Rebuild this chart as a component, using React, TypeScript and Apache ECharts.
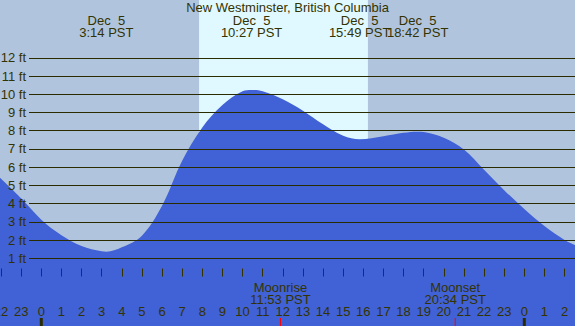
import React, { useEffect, useRef } from "react";
import * as echarts from "echarts";

// Tide curve: hours after midnight Dec 5, height in ft
const tideHours = [-2.052, -1, 0, 1, 2, 3, 3.233, 4, 5, 6, 7, 8, 9, 10, 10.45, 11, 12, 13, 14, 15, 15.817, 17, 18, 18.7, 19, 20, 21, 22, 23, 24, 25, 26, 26.519];
const tideFeet = [5.42, 4.29, 3.12, 2.27, 1.68, 1.38, 1.36, 1.6, 2.24, 3.88, 6.35, 8.18, 9.41, 10.17, 10.24, 10.17, 9.73, 9.1, 8.35, 7.72, 7.53, 7.7, 7.89, 7.95, 7.93, 7.62, 6.97, 5.86, 4.74, 3.7, 2.77, 2.01, 1.73];

// Tide extremes (labels at top)
const eventHours = [3.233, 10.45, 15.817, 18.7];
const eventDates = ["Dec  5", "Dec  5", "Dec  5", "Dec  5"];
const eventTimes = ["3:14 PST", "10:27 PST", "15:49 PST", "18:42 PST"];

// Moon events (labels at bottom)
const moonHours = [11.883, 20.567];
const moonNames = ["Moonrise", "Moonset"];
const moonTimes = ["11:53 PST", "20:34 PST"];

// Daylight
const sunrise = 7.84;
const sunset = 16.23;

const midnightHours = [0, 24];
const footTicks = [1, 12];

const TEXT = "#333300";
const FONT = "Liberation Sans, Arial, sans-serif";

export default function App() {
  const ref = useRef<HTMLDivElement>(null);
  useEffect(() => {
    if (!ref.current) return;
    const chart = echarts.init(ref.current, null, { renderer: "svg" });
    const tideData = tideHours.map((h, i) => [h, tideFeet[i]]);
    const option: any = {
      animation: false,
      backgroundColor: "#b0c4de",
      title: {
        text: "New Westminster, British Columbia",
        left: "center",
        top: 1,
        padding: 0,
        textStyle: { color: TEXT, fontSize: 13, fontWeight: "normal", fontFamily: FONT },
      },
      grid: [
        { left: -19.075, width: 603.75, top: 0, bottom: 0, containLabel: false, outerBoundsMode: "none" },
        { left: 29, right: 0, top: 57.86, bottom: 67.72, containLabel: false, outerBoundsMode: "none" },
      ],
      xAxis: [
        {
          type: "value",
          gridIndex: 0,
          min: -3,
          max: 27,
          interval: 1,
          axisLine: { show: false },
          splitLine: { show: false },
          axisTick: { show: true, inside: true, length: 8, lineStyle: { color: TEXT, width: 1 } },
          axisLabel: {
            inside: true,
            margin: 8,
            interval: 0,
            hideOverlap: false,
            color: TEXT,
            fontSize: 13,
            fontFamily: FONT,
            formatter: (v: number) => String(((v % 24) + 24) % 24),
          },
          z: 6,
        },
        { type: "value", gridIndex: 1, min: 0, max: 1, show: false },
      ],
      yAxis: [
        { type: "value", gridIndex: 0, min: -2.717, max: 15.176, show: false },
        {
          type: "value",
          gridIndex: 1,
          min: footTicks[0],
          max: footTicks[1],
          interval: 1,
          axisLine: { show: false },
          axisTick: { show: false },
          splitLine: { show: true, lineStyle: { color: "#2b2b00", width: 1 } },
          axisLabel: {
            margin: 3,
            color: TEXT,
            fontSize: 13,
            fontFamily: FONT,
            formatter: "{value} ft",
          },
          z: 5,
        },
      ],
      series: [
        {
          type: "custom",
          xAxisIndex: 0,
          yAxisIndex: 0,
          z: 0,
          silent: true,
          data: [[sunrise, sunset]],
          renderItem: (params: any, api: any) => {
            const cs = params.coordSys;
            const x0 = api.coord([api.value(0), 0])[0];
            const x1 = api.coord([api.value(1), 0])[0];
            return {
              type: "rect",
              shape: { x: x0, y: cs.y, width: x1 - x0, height: cs.height },
              style: { fill: "#e0f8ff" },
            };
          },
        },
        {
          type: "line",
          xAxisIndex: 0,
          yAxisIndex: 0,
          z: 2,
          data: tideData,
          smooth: 0.35,
          symbol: "none",
          lineStyle: { width: 0 },
          areaStyle: { color: "#4161d6", opacity: 1, origin: "start" },
        },
        {
          type: "custom",
          xAxisIndex: 0,
          yAxisIndex: 0,
          z: 7,
          silent: true,
          data: eventHours.map((h, i) => [h, i]),
          renderItem: (params: any, api: any) => {
            const i = api.value(1);
            const x = api.coord([api.value(0), 0])[0];
            return {
              type: "group",
              children: [
                {
                  type: "text",
                  style: { text: eventDates[i], x, y: 20, align: "center", verticalAlign: "middle", fill: TEXT, font: `13px ${FONT}` },
                },
                {
                  type: "text",
                  style: { text: eventTimes[i], x, y: 32, align: "center", verticalAlign: "middle", fill: TEXT, font: `13px ${FONT}` },
                },
              ],
            };
          },
        },
        {
          type: "custom",
          xAxisIndex: 0,
          yAxisIndex: 0,
          z: 7,
          silent: true,
          data: moonHours.map((h, i) => [h, i]),
          renderItem: (params: any, api: any) => {
            const i = api.value(1);
            const cs = params.coordSys;
            const x = api.coord([api.value(0), 0])[0];
            const yb = cs.y + cs.height;
            return {
              type: "group",
              children: [
                {
                  type: "text",
                  style: { text: moonNames[i], x, y: 287.5, align: "center", verticalAlign: "middle", fill: TEXT, font: `13px ${FONT}` },
                },
                {
                  type: "text",
                  style: { text: moonTimes[i], x, y: 299.5, align: "center", verticalAlign: "middle", fill: TEXT, font: `13px ${FONT}` },
                },
                {
                  type: "rect",
                  shape: { x: x - 0.5, y: yb - 8, width: 1, height: 8 },
                  style: { fill: "#ff0000" },
                },
              ],
            };
          },
        },
        {
          type: "custom",
          xAxisIndex: 0,
          yAxisIndex: 0,
          z: 7,
          silent: true,
          data: midnightHours.map((h) => [h]),
          renderItem: (params: any, api: any) => {
            const cs = params.coordSys;
            const x = api.coord([api.value(0), 0])[0];
            const yb = cs.y + cs.height;
            return {
              type: "rect",
              shape: { x: x - 1.5, y: yb - 8, width: 3, height: 8 },
              style: { fill: "#2b2b00" },
            };
          },
        },
      ],
    };
    chart.setOption(option);
    return () => chart.dispose();
  }, []);
  return (
    <div
      ref={ref}
      style={{ position: "fixed", left: 0, top: 0, width: 575, height: 326 }}
    />
  );
}
